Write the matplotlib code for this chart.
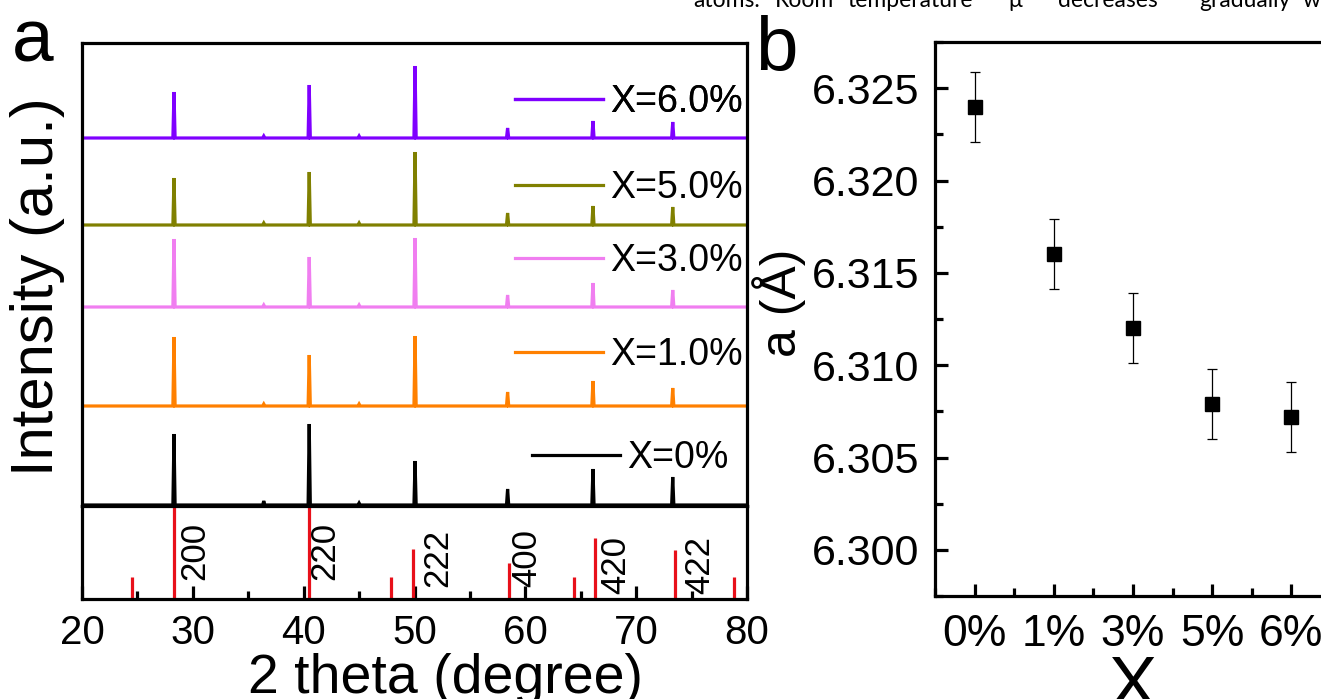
import matplotlib
matplotlib.use('Agg')
import matplotlib.pyplot as plt
from matplotlib.ticker import MultipleLocator

plt.rcParams['font.family'] = ['Liberation Sans', 'DejaVu Sans']

# ---- panel a: XRD patterns ----
peak_pos = [28.3, 40.5, 50.05, 58.4, 66.1, 73.3]
weak_pos = [36.4, 45.0]

labels = ['X=0%', 'X=1.0%', 'X=3.0%', 'X=5.0%', 'X=6.0%']
colors = ['black', '#ff8000', '#f07ef0', '#808000', '#7f00ff']
offsets = [0, 99, 198, 280, 367]
peak_heights = [
    [71, 81, 44, 16, 36, 28],
    [69, 51, 70, 14, 25, 18],
    [68, 50, 69, 12, 24, 17],
    [47, 53, 73, 12, 19, 18],
    [46, 53, 72, 10, 17, 16],
]
weak_heights = [
    [4, 2],
    [2, 2],
    [2, 2],
    [2, 2],
    [2, 2],
]

# reference pattern (PDF card)
ref_pos = [24.5, 28.3, 40.5, 47.9, 49.9, 58.5, 64.4, 66.3, 73.5, 78.8]
ref_int = [24, 100, 100, 24, 54, 39, 24, 66, 53, 24]
hkl = ['200', '220', '222', '400', '420', '422']
hkl_x = [30.2, 41.9, 52.1, 60.1, 68.2, 75.7]
hkl_y = [52, 52, 44, 44, 37, 37]

# ---- panel b: lattice parameter ----
x_labels = ['0%', '1%', '3%', '5%', '6%']
lattice_a = [6.3240, 6.3160, 6.3120, 6.3079, 6.3072]
lattice_err = [0.0019, 0.0019, 0.0019, 0.0019, 0.0019]


def pattern(pos, h, wpos, wh):
    # stick-like spectrum: flat baseline with narrow spikes
    pts = sorted(list(zip(pos, h)) + list(zip(wpos, wh)))
    xs, ys = [20.0], [0.0]
    for p, v in pts:
        xs += [p - 0.1, p, p + 0.1]
        ys += [0.0, v, 0.0]
    xs.append(80.0)
    ys.append(0.0)
    return xs, ys


W, H = 1321, 699
fig = plt.figure(figsize=(W / 100, H / 100), dpi=100)

ax_top = fig.add_axes([82 / W, 1 - 506 / H, 665 / W, 463 / H])
ax_ref = fig.add_axes([82 / W, 1 - 599 / H, 665 / W, 93 / H])
ax_b = fig.add_axes([935 / W, 1 - 596 / H, 396 / W, 554 / H])

spine_w = 2.3
for ax in (ax_top, ax_ref, ax_b):
    for s in ax.spines.values():
        s.set_linewidth(spine_w)

# spectra
leg_y = [0.1037, 0.326, 0.529, 0.6868, 0.8726]
leg_x = [0.6767, 0.651, 0.651, 0.651, 0.651]
for i in range(len(labels)):
    xs, ys = pattern(peak_pos, peak_heights[i], weak_pos, weak_heights[i])
    ys = [y + offsets[i] for y in ys]
    line, = ax_top.plot(xs, ys, color=colors[i], lw=2.3, solid_joinstyle='miter')
    leg = ax_top.legend([line], [labels[i]], loc='center left',
                        bbox_to_anchor=(leg_x[i], leg_y[i]), frameon=False,
                        borderpad=0, borderaxespad=0, handlelength=2.35,
                        handletextpad=0.18, fontsize=27)
    ax_top.add_artist(leg)

ax_top.set_xlim(20, 80)
ax_top.set_ylim(-1, 462)
ax_top.set_xticks([])
ax_top.set_yticks([])

# reference sticks
ax_ref.vlines(ref_pos, 0, ref_int, color='#e8101a', lw=2.3)
for lab, x, y in zip(hkl, hkl_x, hkl_y):
    ax_ref.text(x, y, lab, rotation=90, ha='center', va='center', fontsize=25)
ax_ref.set_xlim(20, 80)
ax_ref.set_ylim(0, 100)
ax_ref.set_yticks([])
ax_ref.xaxis.set_major_locator(MultipleLocator(10))
ax_ref.xaxis.set_minor_locator(MultipleLocator(5))
ax_ref.tick_params(axis='x', which='major', direction='in', length=9.5,
                   width=spine_w, labelsize=29, pad=11)
ax_ref.tick_params(axis='x', which='minor', direction='in', length=6,
                   width=spine_w)

fig.text(38 / W, 1 - 287 / H, 'Intensity (a.u.)', rotation=90, fontsize=43,
         ha='center', va='center')
fig.text(446 / W, 1 - 693 / H, '2 theta (degree)', fontsize=40,
         ha='center', va='baseline')

# panel b
xi = list(range(len(x_labels)))
ax_b.errorbar(xi, lattice_a, yerr=lattice_err, fmt='s', color='black',
              ms=10, capsize=3.6, elinewidth=0.9, capthick=0.9)
ax_b.set_xlim(-0.5, 4.5)
ax_b.set_ylim(6.2975, 6.3275)
ax_b.set_xticks(xi)
ax_b.set_xticklabels(x_labels)
ax_b.xaxis.set_minor_locator(MultipleLocator(0.5))
ax_b.yaxis.set_major_locator(MultipleLocator(0.005))
ax_b.yaxis.set_minor_locator(MultipleLocator(0.0025))
ax_b.yaxis.set_major_formatter(matplotlib.ticker.FormatStrFormatter('%.3f'))
ax_b.tick_params(axis='x', which='major', direction='in', length=9,
                 width=spine_w, labelsize=32, pad=13)
ax_b.tick_params(axis='y', which='major', direction='in', length=9,
                 width=spine_w, labelsize=31, pad=11)
ax_b.tick_params(which='minor', direction='in', length=6, width=spine_w)

fig.text(779 / W, 1 - 303 / H, 'a (Å)', rotation=90, fontsize=36,
         ha='center', va='center')
fig.text(1132 / W, 1 - 707 / H, 'X', fontsize=52, ha='center', va='baseline')

# panel letters
fig.text(33 / W, 1 - 62 / H, 'a', fontsize=54, ha='center', va='baseline')
fig.text(776 / W, 1 - 70 / H, 'b', fontsize=55, ha='center', va='baseline')

# clipped caption text from the page above
words = ['atoms.', 'Room', 'temperature', 'μ', 'decreases', 'gradually', 'w']
word_x = [693, 775, 847, 1008, 1058, 1199, 1303]
for w, x in zip(words, word_x):
    fig.text(x / W, 1 - 7 / H, w, fontsize=16.5, family=['Lato', 'DejaVu Sans'],
             ha='left', va='baseline')

fig.savefig('out.png', dpi=100)
